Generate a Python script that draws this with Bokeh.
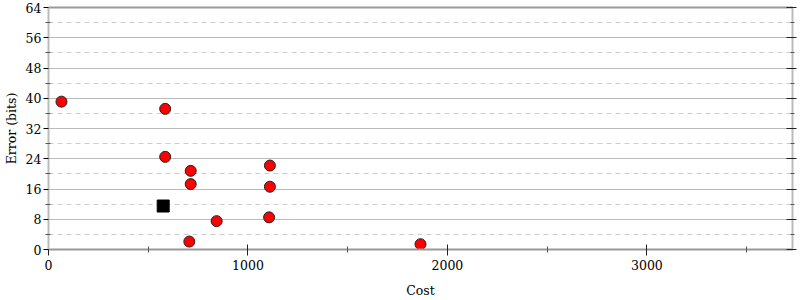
from bokeh.plotting import figure
from bokeh.models import LinearAxis, FixedTicker, Range1d
from bokeh.embed import file_html
from bokeh.resources import INLINE

# Data
cost = [65, 585, 585, 713, 713, 1110, 1110, 843, 1106, 706, 1865]
error_bits = [39.1, 37.2, 24.5, 20.8, 17.3, 22.2, 16.6, 7.5, 8.5, 2.1, 1.4]
init_cost = [575]
init_error = [11.5]

y_ticks = [0, 8, 16, 24, 32, 40, 48, 56, 64]
y_minor = [4, 12, 20, 28, 36, 44, 52, 60]
x_ticks = [0, 1000, 2000, 3000]
x_minor = [500, 1500, 2500, 3500]

FONT = "DejaVu Serif"

p = figure(width=800, height=300, output_backend="svg", toolbar_location=None,
           x_range=Range1d(0, 3730), y_range=Range1d(0, 64),
           min_border_left=47, min_border_right=8, min_border_top=7, min_border_bottom=50)
p.outline_line_color = None
p.background_fill_color = "white"
p.border_fill_color = "white"

# left axis
ya = p.yaxis[0]
ya.ticker = FixedTicker(ticks=y_ticks, minor_ticks=y_minor)
ya.axis_label = "Error (bits)"
ya.axis_line_color = "#bbbbbb"
ya.axis_line_width = 2
ya.major_tick_in = 0
ya.major_tick_out = 5
ya.major_tick_line_color = "black"
ya.minor_tick_in = 2
ya.minor_tick_out = 3
ya.minor_tick_line_color = "#555555"
ya.major_label_standoff = 2
ya.major_label_text_font = FONT
ya.major_label_text_font_size = "12.5px"
ya.major_label_text_color = "black"
ya.axis_label_text_font = FONT
ya.axis_label_text_font_size = "12.5px"
ya.axis_label_text_font_style = "normal"
ya.axis_label_text_color = "black"
ya.axis_label_standoff = 4

# bottom axis
xa = p.xaxis[0]
xa.ticker = FixedTicker(ticks=x_ticks, minor_ticks=x_minor)
xa.axis_label = "Cost"
xa.axis_line_color = "#999999"
xa.axis_line_width = 2
xa.major_tick_in = 5
xa.major_tick_out = 6
xa.major_tick_line_color = "#222222"
xa.minor_tick_in = 3
xa.minor_tick_out = 3
xa.minor_tick_line_color = "#555555"
xa.major_label_standoff = 4
xa.major_label_text_font = FONT
xa.major_label_text_font_size = "12.5px"
xa.major_label_text_color = "black"
xa.axis_label_text_font = FONT
xa.axis_label_text_font_size = "12.5px"
xa.axis_label_text_font_style = "normal"
xa.axis_label_text_color = "black"
xa.axis_label_standoff = 10

# right axis (ticks only)
ra = LinearAxis(ticker=FixedTicker(ticks=y_ticks, minor_ticks=y_minor),
                major_label_overrides={t: "" for t in y_ticks},
                axis_line_color="#bbbbbb", axis_line_width=2,
                major_tick_in=6, major_tick_out=4, major_tick_line_color="#222222",
                minor_tick_in=2, minor_tick_out=2, minor_tick_line_color="#555555",
                major_label_standoff=0, major_label_text_font_size="1px")
p.add_layout(ra, "right")

# top axis (line only)
ta = LinearAxis(ticker=FixedTicker(ticks=[]),
                axis_line_color="#999999", axis_line_width=2,
                major_tick_in=0, major_tick_out=0, minor_tick_in=0, minor_tick_out=0,
                major_label_standoff=0, major_label_text_font_size="1px")
p.add_layout(ta, "above")

# grids
p.xgrid.visible = False
yg = p.ygrid[0]
yg.ticker = FixedTicker(ticks=y_ticks, minor_ticks=y_minor)
yg.grid_line_color = "#bbbbbb"
yg.grid_line_width = 1
yg.minor_grid_line_color = "#cccccc"
yg.minor_grid_line_dash = "5 4"
yg.minor_grid_line_width = 1

p.scatter(cost, error_bits, size=11, marker="circle",
          fill_color="red", line_color="#222222", line_width=1)
p.scatter(init_cost, init_error, size=12, marker="square",
          fill_color="black", line_color="black")

open("out.html", "w").write(file_html(p, INLINE))
